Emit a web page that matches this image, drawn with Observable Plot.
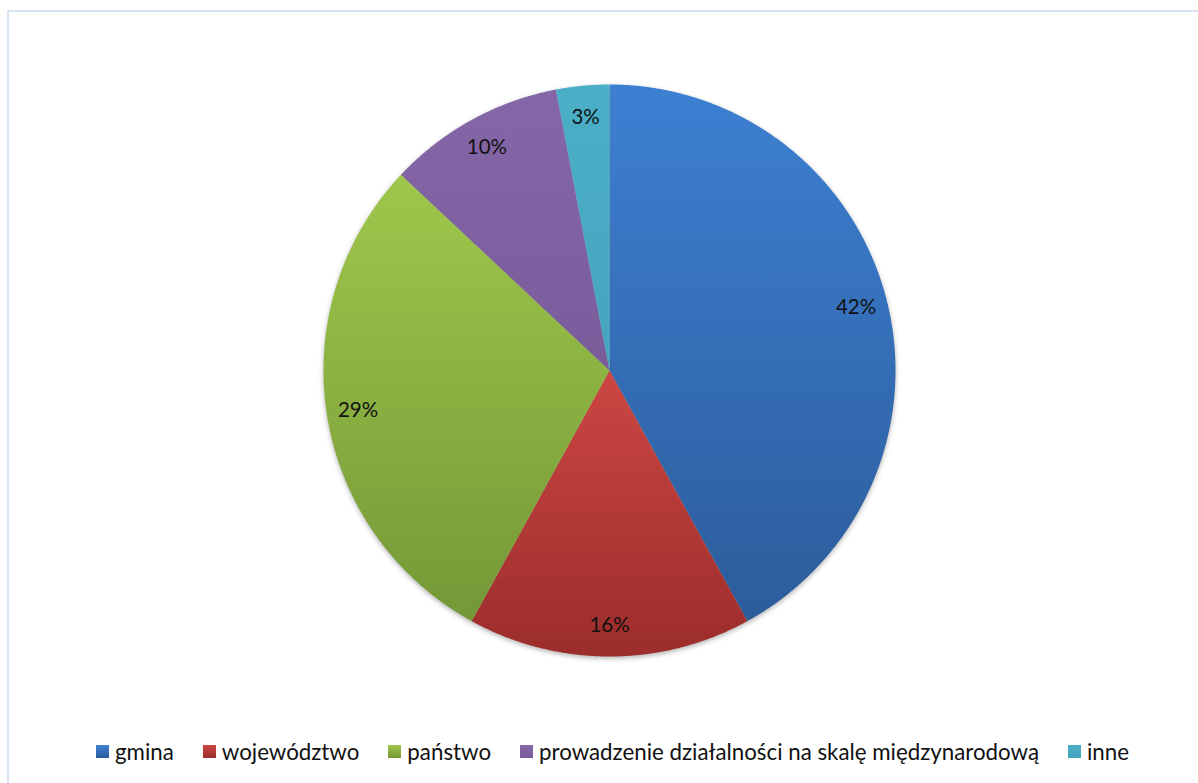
<!DOCTYPE html>
<html>
<head>
<meta charset="utf-8">
<script src="https://cdn.jsdelivr.net/npm/d3@7"></script>
<script src="https://cdn.jsdelivr.net/npm/@observablehq/plot@0.6"></script>
<style>
  html, body { margin: 0; padding: 0; background: #fff; }
  body { width: 1198px; height: 783px; position: relative; overflow: hidden; font-family: Lato, "Open Sans", sans-serif; }
  #frame { position: absolute; left: 7px; top: 10px; width: 1189px; height: 790px; border-left: 2px solid #D6E3F5; border-top: 2px solid #D6E3F5; border-right: 2px solid #D6E3F5; }
  #chart { position: absolute; left: 0; top: 0; }
  #legend { position: absolute; left: 0; top: 738px; width: 1225px; display: flex; justify-content: center; gap: 29px; font-size: 22.3px; line-height: 27px; color: #111; }
  .item { display: flex; align-items: center; gap: 6px; }
  .sw { width: 13px; height: 13px; display: inline-block; }
</style>
</head>
<body>
<div id="frame"></div>
<div id="chart"></div>
<div id="legend"></div>
<script>
const categories = ["gmina", "województwo", "państwo", "prowadzenie działalności na skalę międzynarodową", "inne"];
const values = [42, 16, 29, 10, 3];
const labels = ["42%", "16%", "29%", "10%", "3%"];
const topColors = ["#3D80D2", "#CC4643", "#9FC74B", "#8567A8", "#4BAFC8"];
const bottomColors = ["#2C5C9B", "#9B2D2B", "#759837", "#7A5C9B", "#45A4BE"];

const total = d3.sum(values);
// angles measured clockwise from top
let acc = 0;
const slices = values.map((v, i) => {
  const a0 = acc / total * 2 * Math.PI;
  acc += v;
  const a1 = acc / total * 2 * Math.PI;
  return {i, a0, a1};
});

function slicePoints(s) {
  const pts = [{x: 0, y: 0}];
  const n = Math.max(8, Math.ceil((s.a1 - s.a0) / (Math.PI / 720)));
  for (let k = 0; k <= n; k++) {
    const a = s.a0 + (s.a1 - s.a0) * k / n;
    pts.push({x: Math.sin(a), y: Math.cos(a)});
  }
  pts.push({x: 0, y: 0});
  return pts;
}

const circle = d3.range(0, 721).map(k => ({x: Math.sin(k / 720 * 2 * Math.PI), y: Math.cos(k / 720 * 2 * Math.PI)}));

const labelData = slices.map(s => {
  const m = (s.a0 + s.a1) / 2;
  const r = 0.89;
  return {x: r * Math.sin(m), y: r * Math.cos(m), text: labels[s.i]};
});

const ns = "http://www.w3.org/2000/svg";
function defsMark() {
  const defs = document.createElementNS(ns, "defs");
  topColors.forEach((c, i) => {
    const g = document.createElementNS(ns, "linearGradient");
    g.setAttribute("id", "grad" + i);
    g.setAttribute("x1", "0"); g.setAttribute("y1", "0");
    g.setAttribute("x2", "0"); g.setAttribute("y2", "1");
    const s0 = document.createElementNS(ns, "stop");
    s0.setAttribute("offset", "0"); s0.setAttribute("stop-color", c);
    const s1 = document.createElementNS(ns, "stop");
    s1.setAttribute("offset", "1"); s1.setAttribute("stop-color", bottomColors[i]);
    g.appendChild(s0); g.appendChild(s1);
    defs.appendChild(g);
  });
  return defs;
}

const marks = [
  defsMark,
  Plot.line(circle, {x: "x", y: "y", fill: "#000", fillOpacity: 0.3, stroke: "none", dy: 2})
];
slices.forEach(s => {
  marks.push(Plot.line(slicePoints(s), {x: "x", y: "y", fill: `url(#grad${s.i})`, stroke: "none"}));
});
marks.push(Plot.text(labelData, {x: "x", y: "y", text: "text", fill: "#111", fontSize: 20.5, fontFamily: "Lato, 'Open Sans', sans-serif"}));

const chart = Plot.plot({
  width: 1198,
  height: 730,
  margin: 0,
  x: {domain: [-1, 1], range: [323, 895], axis: null},
  y: {domain: [-1, 1], range: [656, 84], axis: null},
  style: {background: "transparent", overflow: "visible"},
  marks
});
const lineGroups = chart.querySelectorAll('g[aria-label="line"]');
if (lineGroups.length) lineGroups[0].setAttribute("style", "filter: blur(2.5px)");
document.getElementById("chart").appendChild(chart);

const legend = document.getElementById("legend");
categories.forEach((c, i) => {
  const item = document.createElement("div");
  item.className = "item";
  const sw = document.createElement("span");
  sw.className = "sw";
  sw.style.background = `linear-gradient(${topColors[i]}, ${bottomColors[i]})`;
  const t = document.createElement("span");
  t.textContent = c;
  item.appendChild(sw); item.appendChild(t);
  legend.appendChild(item);
});
</script>
</body>
</html>
